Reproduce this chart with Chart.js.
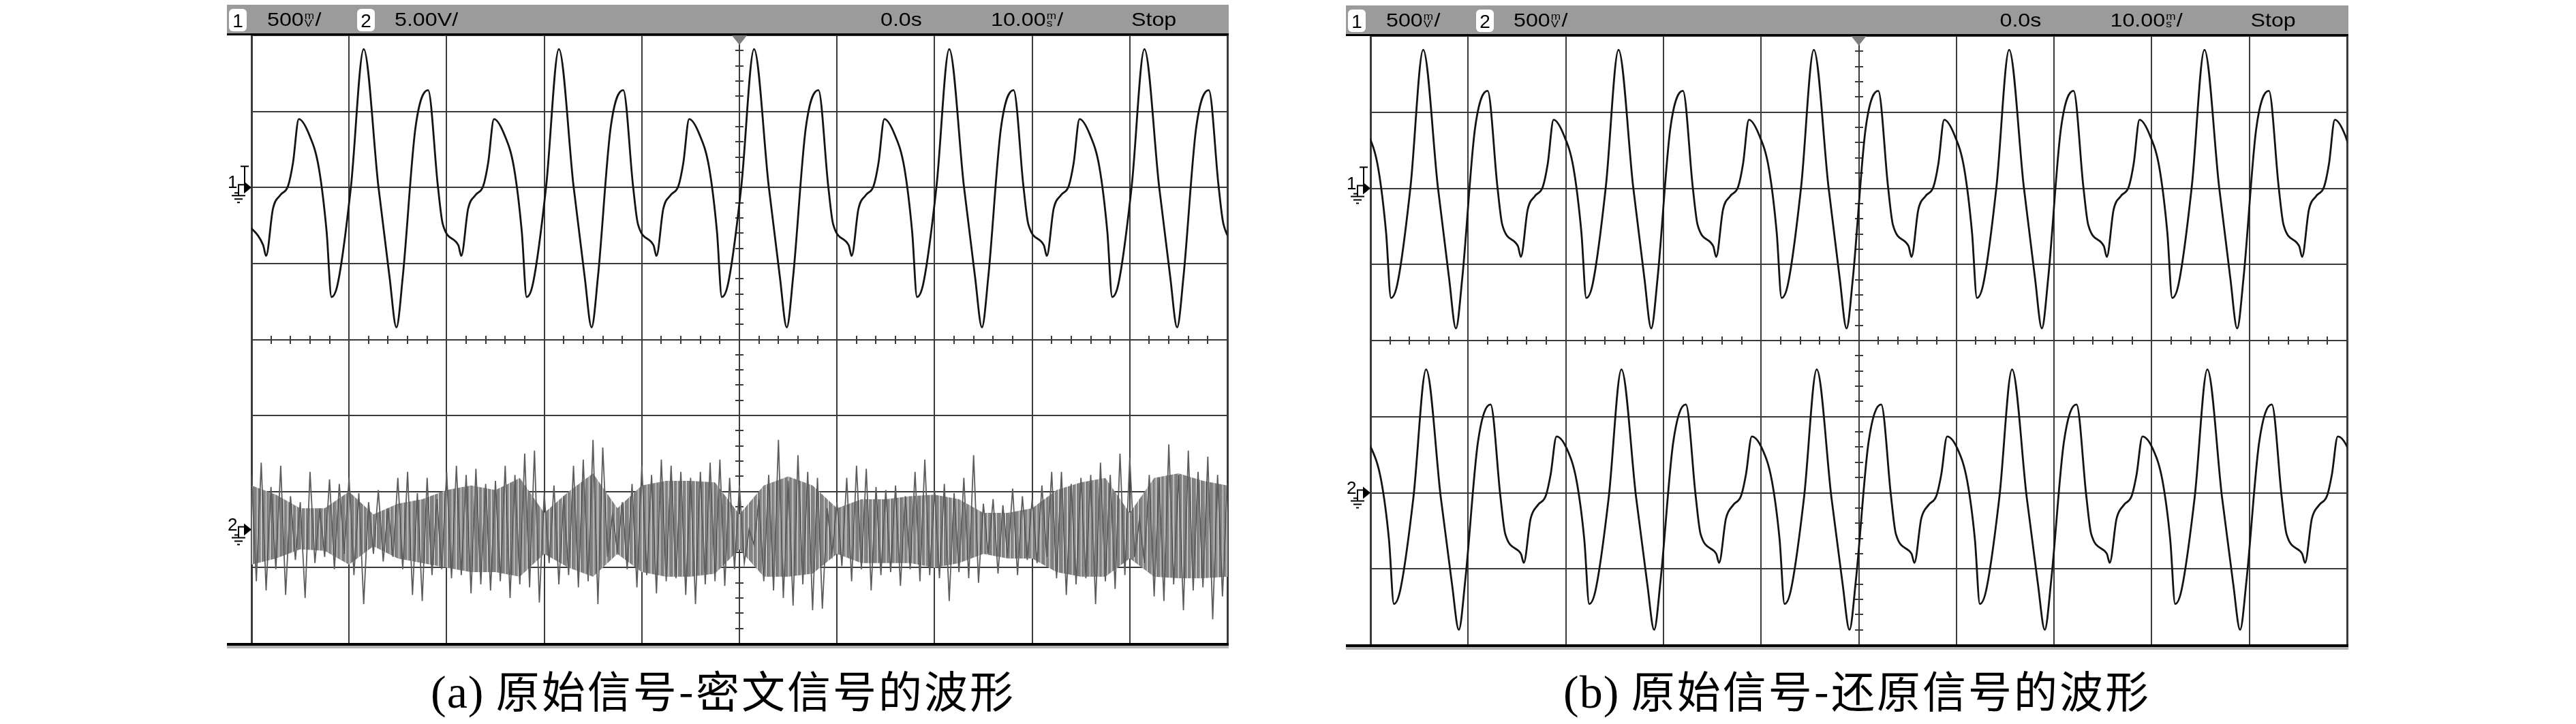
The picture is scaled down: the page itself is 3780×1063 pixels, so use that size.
<!DOCTYPE html>
<html lang="zh-CN">

<head>
    <meta charset="UTF-8">
    <title>原始信号、密文信号与还原信号的波形</title>
    <script src="https://cdn.jsdelivr.net/npm/chart.js"></script>
    <style>
        * {
            margin: 0;
            padding: 0;
            box-sizing: border-box;
        }

        body {
            width: 3780px;
            height: 1063px;
            background: #fff;
            position: relative;
            overflow: hidden;
        }

        canvas.scope {
            position: absolute;
            top: 0;
        }

        .caption {
            position: absolute;
            top: 977px;
            width: 1400px;
            text-align: center;
            white-space: nowrap;
            color: #000;
            font-family: 'Noto Sans CJK SC', sans-serif;
            font-size: 64px;
            letter-spacing: 3px;
            line-height: 68px;
        }

        .caption .tag {
            font-family: 'Liberation Serif', 'DejaVu Serif', serif;
            font-size: 68px;
            letter-spacing: 1px;
        }
    </style>
</head>

<body>
    <canvas id="scopeA" class="scope" width="1500" height="960" style="left:320px;width:1500px;height:960px"></canvas>
    <canvas id="scopeB" class="scope" width="1500" height="960" style="left:1960px;width:1500px;height:960px"></canvas>

    <div class="caption" style="left:361px"><span class="tag">(a)</span> 原始信号-密文信号的波形</div>
    <div class="caption" style="left:2025px"><span class="tag">(b)</span> 原始信号-还原信号的波形</div>

    <script>
        // time base 10 ms/div, trigger at 0 -> screen is -50 .. 50 ms
        const xTicks = [-50, -40, -30, -20, -10, 0, 10, 20, 30, 40, 50];
        // graticule rows in divisions
        const divTicks = [-4, -3, -2, -1, 0, 1, 2, 3, 4];

        // (a) channel 1, original signal (ms, V)
        const origAT = [
            -50.4, -48.8,
            -48.5, -47.8, -47.05, -46.25, -45.75, -45.15, -44.1, -43.1, -42.3, -41.8, -41.15, -39.8, -38.5, -37.0, -35.85, -35.15, -34.5, -33.2, -31.9, -30.9, -30.4, -28.8,
            -28.5, -27.8, -27.05, -26.25, -25.75, -25.15, -24.1, -23.1, -22.3, -21.8, -21.15, -19.8, -18.5, -17.0, -15.85, -15.15, -14.5, -13.2, -11.9, -10.9, -10.4, -8.8,
            -8.5, -7.8, -7.05, -6.25, -5.75, -5.15, -4.1, -3.1, -2.3, -1.8, -1.15, 0.2, 1.5, 3.0, 4.15, 4.85, 5.5, 6.8, 8.1, 9.1, 9.6, 11.2,
            11.5, 12.2, 12.95, 13.75, 14.25, 14.85, 15.9, 16.9, 17.7, 18.2, 18.85, 20.2, 21.5, 23.0, 24.15, 24.85, 25.5, 26.8, 28.1, 29.1, 29.6, 31.2,
            31.5, 32.2, 32.95, 33.75, 34.25, 34.85, 35.9, 36.9, 37.7, 38.2, 38.85, 40.2, 41.5, 43.0, 44.15, 44.85, 45.5, 46.8, 48.1, 49.1, 49.6, 51.2
        ];
        const origAV = [
            -0.24, -0.38,
            -0.45, -0.14, -0.05, 0.01, 0.16, 0.45, 0.35, 0.13, -0.29, -0.72, -0.63, 0.01, 0.91, 0.01, -0.59, -0.92, -0.59, 0.39, 0.64, 0.01, -0.24, -0.38,
            -0.45, -0.14, -0.05, 0.01, 0.16, 0.45, 0.35, 0.13, -0.29, -0.72, -0.63, 0.01, 0.91, 0.01, -0.59, -0.92, -0.59, 0.39, 0.64, 0.01, -0.24, -0.38,
            -0.45, -0.14, -0.05, 0.01, 0.16, 0.45, 0.35, 0.13, -0.29, -0.72, -0.63, 0.01, 0.91, 0.01, -0.59, -0.92, -0.59, 0.39, 0.64, 0.01, -0.24, -0.38,
            -0.45, -0.14, -0.05, 0.01, 0.16, 0.45, 0.35, 0.13, -0.29, -0.72, -0.63, 0.01, 0.91, 0.01, -0.59, -0.92, -0.59, 0.39, 0.64, 0.01, -0.24, -0.38,
            -0.45, -0.14, -0.05, 0.01, 0.16, 0.45, 0.35, 0.13, -0.29, -0.72, -0.63, 0.01, 0.91, 0.01, -0.59, -0.92, -0.59, 0.39, 0.64, 0.01, -0.24, -0.38
        ];

        // (a) channel 2, cipher signal (V), one spike end every 0.5 ms from -50 ms
        const cipherStart = -50;
        const cipherStep = 0.5;
        const cipherV = [
            3.6, -3.4, 4.4, -4.0, 2.8, -2.6, 4.2, -4.3, 2.2, -2.0, 1.8, -4.5, 3.8, -2.2, 1.4, -1.8, 3.3, -2.6, 3.0, -1.6,
            3.4, -3.0, 2.4, -4.9, 1.8, -1.6, 2.6, -2.1, 1.4, -1.8, 3.4, -2.6, 3.8, -4.3, 2.4, -4.7, 3.4, -3.0, 2.0, -2.6,
            3.8, -3.2, 4.2, -3.0, 3.6, -4.2, 4.0, -3.6, 3.0, -4.0, 3.2, -3.4, 4.2, -4.5, 3.6, -3.6, 5.0, -3.8, 5.2, -4.8,
            2.4, -2.2, 2.9, -3.6, 2.2, -3.0, 4.2, -3.8, 4.6, -3.4, 5.9, -4.9, 5.4, -1.8, 1.0, -1.4, 1.8, -2.6, 3.0, -3.8,
            4.2, -3.0, 3.6, -4.2, 4.6, -3.4, 4.2, -3.2, 3.8, -4.3, 3.4, -4.9, 3.8, -3.6, 4.4, -3.4, 4.6, -3.7, 3.4, -2.6,
            2.9, -2.2, 0.0, -1.0, 2.0, -3.4, 3.6, -4.0, 5.9, -4.5, 3.2, -5.0, 4.9, -3.6, 3.8, -5.3, 3.4, -5.2, 1.4, -1.6,
            1.8, -2.4, 3.4, -3.4, 4.2, -2.6, 4.0, -4.0, 2.8, -3.0, 2.6, -2.8, 2.9, -3.7, 2.2, -2.6, 3.8, -3.4, 4.6, -3.0,
            2.6, -3.2, 3.0, -4.7, 2.4, -2.8, 3.4, -3.2, 4.9, -3.5, 1.7, -1.6, 2.0, -2.9, 1.6, -1.8, 2.7, -3.0, 2.2, -2.0,
            2.0, -2.2, 2.9, -1.8, 3.8, -3.2, 3.8, -4.3, 3.0, -3.6, 3.4, -3.2, 3.6, -4.9, 4.4, -3.4, 3.6, -3.9, 5.0, -3.0,
            4.7, -1.8, 0.7, -2.2, 3.6, -4.4, 3.4, -4.7, 5.6, -3.6, 3.6, -5.3, 5.2, -4.0, 3.8, -3.8, 4.8, -5.9, 3.6, -4.4, 3.0
        ];
        // dense core of the cipher trace, every 2.5 ms from -50 ms
        const coreStep = 2.5;
        const cipherCoreHi = [2.9, 2.3, 1.4, 1.4, 2.5, 1.0, 1.7, 2.0, 2.6, 2.9, 2.6, 3.4, 1.1, 2.5, 3.7, 1.4, 2.9, 3.2, 3.2, 3.1,
            1.0, 2.9, 3.5, 2.9, 1.4, 2.0, 2.0, 2.2, 2.3, 2.0, 1.1, 1.1, 1.4, 2.6, 3.1, 3.4, 1.1, 3.4, 3.7, 3.2, 2.9];
        const cipherCoreLo = [-2.3, -1.9, -1.3, -1.4, -2.3, -1.1, -1.9, -2.2, -2.5, -2.8, -2.8, -3.1, -1.6, -2.5, -3.1, -1.6, -2.8, -3.1, -3.1, -2.9,
            -1.3, -3.1, -3.1, -2.9, -1.6, -2.2, -2.2, -2.2, -2.5, -2.2, -1.6, -1.9, -1.9, -2.8, -3.1, -3.1, -1.9, -3.1, -3.2, -3.2, -3.1];

        // (b) channel 1, original signal (ms, V)
        const origBT = [
            -51.25, -50.2, -49.2, -48.4, -47.9, -47.25, -45.9, -44.6, -43.1, -41.95, -41.25, -40.6, -39.3, -38.0, -37.0, -36.5, -34.9,
            -34.6, -33.9, -33.15, -32.35, -31.85, -31.25, -30.2, -29.2, -28.4, -27.9, -27.25, -25.9, -24.6, -23.1, -21.95, -21.25, -20.6, -19.3, -18.0, -17.0, -16.5, -14.9,
            -14.6, -13.9, -13.15, -12.35, -11.85, -11.25, -10.2, -9.2, -8.4, -7.9, -7.25, -5.9, -4.6, -3.1, -1.95, -1.25, -0.6, 0.7, 2.0, 3.0, 3.5, 5.1,
            5.4, 6.1, 6.85, 7.65, 8.15, 8.75, 9.8, 10.8, 11.6, 12.1, 12.75, 14.1, 15.4, 16.9, 18.05, 18.75, 19.4, 20.7, 22.0, 23.0, 23.5, 25.1,
            25.4, 26.1, 26.85, 27.65, 28.15, 28.75, 29.8, 30.8, 31.6, 32.1, 32.75, 34.1, 35.4, 36.9, 38.05, 38.75, 39.4, 40.7, 42.0, 43.0, 43.5, 45.1,
            45.4, 46.1, 46.85, 47.65, 48.15, 48.75, 49.8, 50.8
        ];
        const origBV = [
            0.45, 0.35, 0.13, -0.29, -0.72, -0.63, 0.01, 0.91, 0.01, -0.59, -0.92, -0.59, 0.39, 0.64, 0.01, -0.24, -0.38,
            -0.45, -0.14, -0.05, 0.01, 0.16, 0.45, 0.35, 0.13, -0.29, -0.72, -0.63, 0.01, 0.91, 0.01, -0.59, -0.92, -0.59, 0.39, 0.64, 0.01, -0.24, -0.38,
            -0.45, -0.14, -0.05, 0.01, 0.16, 0.45, 0.35, 0.13, -0.29, -0.72, -0.63, 0.01, 0.91, 0.01, -0.59, -0.92, -0.59, 0.39, 0.64, 0.01, -0.24, -0.38,
            -0.45, -0.14, -0.05, 0.01, 0.16, 0.45, 0.35, 0.13, -0.29, -0.72, -0.63, 0.01, 0.91, 0.01, -0.59, -0.92, -0.59, 0.39, 0.64, 0.01, -0.24, -0.38,
            -0.45, -0.14, -0.05, 0.01, 0.16, 0.45, 0.35, 0.13, -0.29, -0.72, -0.63, 0.01, 0.91, 0.01, -0.59, -0.92, -0.59, 0.39, 0.64, 0.01, -0.24, -0.38,
            -0.45, -0.14, -0.05, 0.01, 0.16, 0.45, 0.35, 0.13
        ];

        // (b) channel 2, restored signal (ms, V)
        const restBT = [
            -50.95, -49.9, -48.9, -48.1, -47.6, -46.95, -45.6, -44.3, -42.8, -41.65, -40.95, -40.3, -39.0, -37.7, -36.7, -36.2, -34.6,
            -34.3, -33.6, -32.85, -32.05, -31.55, -30.95, -29.9, -28.9, -28.1, -27.6, -26.95, -25.6, -24.3, -22.8, -21.65, -20.95, -20.3, -19.0, -17.7, -16.7, -16.2, -14.6,
            -14.3, -13.6, -12.85, -12.05, -11.55, -10.95, -9.9, -8.9, -8.1, -7.6, -6.95, -5.6, -4.3, -2.8, -1.65, -0.95, -0.3, 1.0, 2.3, 3.3, 3.8, 5.4,
            5.7, 6.4, 7.15, 7.95, 8.45, 9.05, 10.1, 11.1, 11.9, 12.4, 13.05, 14.4, 15.7, 17.2, 18.35, 19.05, 19.7, 21.0, 22.3, 23.3, 23.8, 25.4,
            25.7, 26.4, 27.15, 27.95, 28.45, 29.05, 30.1, 31.1, 31.9, 32.4, 33.05, 34.4, 35.7, 37.2, 38.35, 39.05, 39.7, 41.0, 42.3, 43.3, 43.8, 45.4,
            45.7, 46.4, 47.15, 47.95, 48.45, 49.05, 50.1, 51.1
        ];
        const restBV = [
            0.37, 0.29, 0.08, -0.31, -0.73, -0.64, -0.03, 0.81, -0.03, -0.60, -0.90, -0.58, 0.33, 0.58, -0.02, -0.27, -0.40,
            -0.46, -0.17, -0.08, -0.02, 0.12, 0.37, 0.29, 0.08, -0.31, -0.73, -0.64, -0.03, 0.81, -0.03, -0.60, -0.90, -0.58, 0.33, 0.58, -0.02, -0.27, -0.40,
            -0.46, -0.17, -0.08, -0.02, 0.12, 0.37, 0.29, 0.08, -0.31, -0.73, -0.64, -0.03, 0.81, -0.03, -0.60, -0.90, -0.58, 0.33, 0.58, -0.02, -0.27, -0.40,
            -0.46, -0.17, -0.08, -0.02, 0.12, 0.37, 0.29, 0.08, -0.31, -0.73, -0.64, -0.03, 0.81, -0.03, -0.60, -0.90, -0.58, 0.33, 0.58, -0.02, -0.27, -0.40,
            -0.46, -0.17, -0.08, -0.02, 0.12, 0.37, 0.29, 0.08, -0.31, -0.73, -0.64, -0.03, 0.81, -0.03, -0.60, -0.90, -0.58, 0.33, 0.58, -0.02, -0.27, -0.40,
            -0.46, -0.17, -0.08, -0.02, 0.12, 0.37, 0.29, 0.08
        ];
    </script>

    <script>
        const gridColor = '#3a3a3a';
        const traceColor = '#141414';

        const toPts = (ts, vs) => ts.map((t, i) => ({ x: t, y: vs[i] }));
        const stepPts = (start, step, vs) => vs.map((v, i) => ({ x: start + i * step, y: v }));

        // vertical hatching, so the dense part of the cipher trace reads as many strokes
        function hatchPattern() {
            const shades = ['#7c7c7c', '#8a8a8a', '#6f6f6f', '#9a9a9a', '#808080', '#e6e6e6', '#767676', '#8e8e8e', '#707070', '#a4a4a4', '#858585', '#f2f2f2', '#7a7a7a'];
            const c = document.createElement('canvas');
            c.width = shades.length;
            c.height = 1;
            const g = c.getContext('2d');
            shades.forEach((s, i) => { g.fillStyle = s; g.fillRect(i, 0, 1, 1); });
            return g.createPattern(c, 'repeat');
        }

        // text on the grey status bar, stacked parts are [top, bottom]
        function scopeText(ctx, x, baseline, parts) {
            ctx.save();
            ctx.translate(x, baseline);
            ctx.scale(1.15, 1);
            ctx.textBaseline = 'alphabetic';
            ctx.textAlign = 'left';
            let pos = 0;
            for (const p of parts) {
                if (typeof p === 'string') {
                    ctx.font = '28px "Liberation Sans"';
                    ctx.fillText(p, pos, 0);
                    pos += ctx.measureText(p).width;
                } else {
                    ctx.font = '15px "Liberation Sans"';
                    const w = Math.max(ctx.measureText(p[0]).width, ctx.measureText(p[1]).width);
                    ctx.fillText(p[0], pos + 1, -10);
                    ctx.fillText(p[1], pos + 1, 1);
                    pos += w + 2;
                }
            }
            ctx.restore();
        }

        function chanBox(ctx, x, top, bottom, label) {
            ctx.fillStyle = '#fff';
            ctx.beginPath();
            ctx.roundRect(x, top, 26, bottom - top, 6);
            ctx.fill();
            ctx.fillStyle = '#000';
            ctx.font = '28px "Liberation Sans"';
            ctx.textAlign = 'center';
            ctx.textBaseline = 'alphabetic';
            ctx.fillText(label, x + 13, bottom - 6);
        }

        function groundMarker(ctx, left, gy, label, trig) {
            ctx.fillStyle = '#000';
            ctx.strokeStyle = '#000';
            ctx.lineWidth = 2;
            ctx.font = '26px "Liberation Sans"';
            ctx.textAlign = 'left';
            ctx.textBaseline = 'middle';
            ctx.fillText(label, left - 35, gy - 6);
            ctx.beginPath();
            ctx.moveTo(left - 11, gy - 9);
            ctx.lineTo(left, gy);
            ctx.lineTo(left - 11, gy + 9);
            ctx.closePath();
            ctx.fill();
            ctx.beginPath();
            ctx.moveTo(left - 25, gy + 8);
            ctx.lineTo(left - 19, gy + 8);
            ctx.lineTo(left - 19, gy - 4);
            ctx.lineTo(left - 11, gy - 4);
            ctx.moveTo(left - 19, gy + 8);
            ctx.lineTo(left - 19, gy + 12);
            ctx.moveTo(left - 29, gy + 12);
            ctx.lineTo(left - 9, gy + 12);
            ctx.moveTo(left - 25, gy + 17);
            ctx.lineTo(left - 13, gy + 17);
            ctx.moveTo(left - 21, gy + 22);
            ctx.lineTo(left - 17, gy + 22);
            if (trig) {
                ctx.moveTo(left - 10, gy - 3);
                ctx.lineTo(left - 10, gy - 31);
                ctx.moveTo(left - 16, gy - 31);
                ctx.lineTo(left - 4, gy - 31);
            }
            ctx.stroke();
        }

        function makeDecor(cfg) {
            return {
                id: 'scopeDecor',
                beforeDatasetsDraw(chart) {
                    const ctx = chart.ctx;
                    const xs = chart.scales.x, ys = chart.scales.y;
                    const cx = Math.round(xs.getPixelForValue(0));
                    const cy = Math.round(ys.getPixelForValue(0));
                    ctx.save();
                    ctx.strokeStyle = gridColor;
                    ctx.lineWidth = 2;
                    ctx.beginPath();
                    for (let k = -20; k <= 20; k++) {
                        const y = Math.round(ys.getPixelForValue(k * 0.2));
                        ctx.moveTo(cx - 6, y);
                        ctx.lineTo(cx + 6, y);
                    }
                    for (let k = -25; k <= 25; k++) {
                        const x = Math.round(xs.getPixelForValue(k * 2));
                        ctx.moveTo(x, cy - 6);
                        ctx.lineTo(x, cy + 6);
                    }
                    ctx.stroke();
                    ctx.restore();
                },
                afterDraw(chart) {
                    const ctx = chart.ctx;
                    const a = chart.chartArea;
                    const cx = chart.scales.x.getPixelForValue(0);
                    const hl = a.left - 36, hr = a.right + 2, ht = a.top - 45, hb = a.top;
                    ctx.save();

                    // status bar
                    ctx.fillStyle = '#9b9b9b';
                    ctx.fillRect(hl, ht, hr - hl, hb - ht);
                    ctx.fillStyle = '#000';
                    ctx.fillRect(hl, hb - 3, hr - hl, 3);
                    chanBox(ctx, hl + 3, ht + 6, hb - 6, '1');
                    chanBox(ctx, hl + 191, ht + 6, hb - 6, '2');
                    ctx.fillStyle = '#000';
                    const base = hb - 14;
                    scopeText(ctx, hl + 59, base, cfg.ch1Label);
                    scopeText(ctx, hl + 246, base, cfg.ch2Label);
                    scopeText(ctx, cx + 207, base, ['0.0s']);
                    scopeText(ctx, cx + 369, base, ['10.00', ['m', 's'], '/']);
                    scopeText(ctx, cx + 575, base, ['Stop']);

                    // trigger position
                    ctx.fillStyle = '#7d7d7d';
                    ctx.beginPath();
                    ctx.moveTo(cx - 11, a.top);
                    ctx.lineTo(cx + 11, a.top);
                    ctx.lineTo(cx, a.top + 14);
                    ctx.closePath();
                    ctx.fill();

                    // bottom edge
                    ctx.fillStyle = '#000';
                    ctx.fillRect(hl, a.bottom - 1, hr - hl, 4);
                    ctx.fillStyle = '#b4b4b4';
                    ctx.fillRect(hl, a.bottom + 3, hr - hl, 4);

                    // channel ground markers
                    groundMarker(ctx, a.left, chart.scales.c1.getPixelForValue(0), '1', true);
                    groundMarker(ctx, a.left, chart.scales.c2.getPixelForValue(0), '2', false);
                    ctx.restore();
                }
            };
        }

        function scopeChart(canvasId, datasets, c2Range, pad, cfg) {
            const edge = c => (c.tick && (c.tick.value === -50 || c.tick.value === 50)) ? 3 : 2;
            return new Chart(document.getElementById(canvasId), {
                type: 'line',
                data: { datasets: datasets },
                plugins: [makeDecor(cfg)],
                options: {
                    responsive: false,
                    animation: false,
                    events: [],
                    layout: { padding: pad },
                    plugins: {
                        legend: { display: false },
                        tooltip: { enabled: false }
                    },
                    elements: { point: { radius: 0 } },
                    scales: {
                        x: {
                            type: 'linear',
                            min: -50,
                            max: 50,
                            afterBuildTicks: s => { s.ticks = xTicks.map(v => ({ value: v })); },
                            ticks: { display: false },
                            grid: { color: gridColor, lineWidth: edge, drawTicks: false },
                            border: { display: false }
                        },
                        y: {
                            type: 'linear',
                            min: -4,
                            max: 4,
                            afterBuildTicks: s => { s.ticks = divTicks.map(v => ({ value: v })); },
                            ticks: { display: false },
                            grid: { color: gridColor, lineWidth: 2, drawTicks: false },
                            border: { display: false }
                        },
                        // channel 1: 500 mV/div, ground 2 div above centre
                        c1: { type: 'linear', display: false, min: -3, max: 1 },
                        // channel 2 range follows its own V/div and ground position
                        c2: { type: 'linear', display: false, min: c2Range[0], max: c2Range[1] }
                    }
                }
            });
        }

        const traceStyle = {
            borderColor: traceColor,
            borderWidth: 2.8,
            pointRadius: 0,
            fill: false,
            cubicInterpolationMode: 'monotone'
        };

        scopeChart('scopeA', [
            Object.assign({ data: toPts(origAT, origAV), yAxisID: 'c1', order: 1 }, traceStyle),
            {
                data: stepPts(cipherStart, cipherStep, cipherV), yAxisID: 'c2', order: 2,
                borderColor: '#5c5c5c', borderWidth: 1.8, pointRadius: 0, fill: false, tension: 0
            },
            {
                data: stepPts(cipherStart, coreStep, cipherCoreHi), yAxisID: 'c2', order: 3,
                borderColor: 'transparent', borderWidth: 0, backgroundColor: hatchPattern(), pointRadius: 0,
                fill: '+1', tension: 0
            },
            {
                data: stepPts(cipherStart, coreStep, cipherCoreLo), yAxisID: 'c2', order: 3,
                borderColor: 'transparent', borderWidth: 0, pointRadius: 0, fill: false, tension: 0
            }
        ], [-7.5, 32.5], { left: 49, right: 19, top: 52, bottom: 15 }, {
            ch1Label: ['500', ['m', 'V'], '/'],
            ch2Label: ['5.00V/']
        });

        scopeChart('scopeB', [
            Object.assign({ data: toPts(origBT, origBV), yAxisID: 'c1', order: 1 }, traceStyle),
            Object.assign({ data: toPts(restBT, restBV), yAxisID: 'c2', order: 2 }, traceStyle)
        ], [-1, 3], { left: 51, right: 16, top: 53, bottom: 13 }, {
            ch1Label: ['500', ['m', 'V'], '/'],
            ch2Label: ['500', ['m', 'V'], '/']
        });
    </script>
</body>

</html>
